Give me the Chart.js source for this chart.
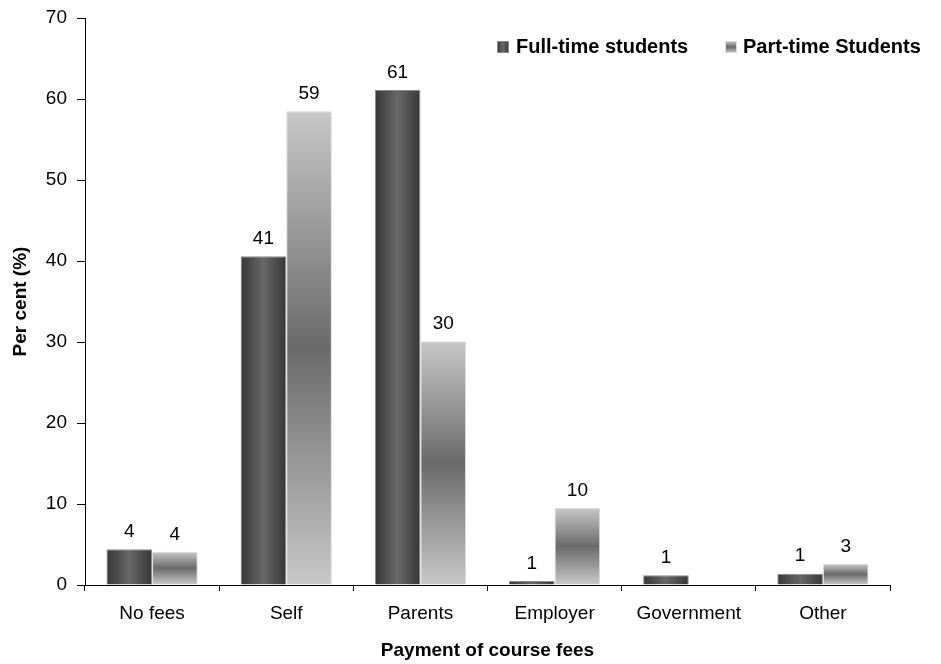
<!DOCTYPE html>
<html>
<head>
<meta charset="utf-8">
<script src="https://cdn.jsdelivr.net/npm/chart.js@4.4.1/dist/chart.umd.min.js"></script>
<style>
  html, body { margin: 0; padding: 0; background: #fff; }
  #wrap { width: 941px; height: 664px; position: relative; }
</style>
</head>
<body>
<div id="wrap"><canvas id="chart"></canvas></div>
<script>
var categories = ['No fees', 'Self', 'Parents', 'Employer', 'Government', 'Other'];
var fullTime = [4.4, 40.6, 61.1, 0.5, 1.2, 1.4];
var partTime = [4.1, 58.5, 30.1, 9.5, null, 2.6];
var seriesNames = ['Full-time students', 'Part-time Students'];
var yTicks = [0, 10, 20, 30, 40, 50, 60, 70];

var FONT = '"Liberation Sans", Arial, sans-serif';
Chart.defaults.font.family = FONT;
Chart.defaults.color = '#000';

function darkFill(ctx, left, right) {
  var g = ctx.createLinearGradient(left, 0, right, 0);
  g.addColorStop(0, '#363636');
  g.addColorStop(0.5, '#686868');
  g.addColorStop(1, '#363636');
  return g;
}

function lightFill(ctx, top, bottom) {
  var g = ctx.createLinearGradient(0, top, 0, bottom);
  g.addColorStop(0, '#c8c8c8');
  g.addColorStop(0.5, '#6a6a6a');
  g.addColorStop(1, '#c8c8c8');
  return g;
}

// shading for each bar, set once the bars have their positions
var shadePlugin = {
  id: 'shade',
  beforeDatasetsDraw: function(chart) {
    var ctx = chart.ctx;
    chart.data.datasets.forEach(function(ds, i) {
      chart.getDatasetMeta(i).data.forEach(function(bar) {
        bar.options.backgroundColor = i === 0
          ? darkFill(ctx, bar.x - bar.width / 2, bar.x + bar.width / 2)
          : lightFill(ctx, bar.y, bar.base);
      });
    });
  }
};

// rounded value above every bar
var valueLabels = {
  id: 'valueLabels',
  afterDatasetsDraw: function(chart) {
    var ctx = chart.ctx;
    ctx.save();
    ctx.font = '19px ' + FONT;
    ctx.fillStyle = '#000';
    ctx.textAlign = 'center';
    ctx.textBaseline = 'bottom';
    chart.data.datasets.forEach(function(ds, i) {
      chart.getDatasetMeta(i).data.forEach(function(bar, j) {
        var v = ds.data[j];
        if (v === null) return;
        ctx.fillText(Math.round(v), bar.x, bar.y - 8);
      });
    });
    ctx.restore();
  }
};

// legend in the upper right corner
var legendX = [497, 725];
var cornerLegend = {
  id: 'cornerLegend',
  afterDraw: function(chart) {
    var ctx = chart.ctx;
    ctx.save();
    ctx.font = 'bold 20px ' + FONT;
    ctx.textBaseline = 'middle';
    var y = 47;
    seriesNames.forEach(function(name, i) {
      var x = legendX[i];
      ctx.fillStyle = i === 0 ? darkFill(ctx, x, x + 12) : lightFill(ctx, y - 6, y + 6);
      ctx.fillRect(x, y - 6, 12, 12);
      ctx.strokeStyle = i === 0 ? '#8a8a8a' : '#dcdcdc';
      ctx.lineWidth = 1;
      ctx.strokeRect(x + 0.5, y - 5.5, 11, 11);
      ctx.fillStyle = '#000';
      ctx.fillText(name, x + (i === 0 ? 19 : 18), y);
    });
    ctx.restore();
  }
};

// any function here keeps the bar options per element, so each bar gets its own fill
function placeholder() { return '#555'; }

new Chart(document.getElementById('chart').getContext('2d'), {
  type: 'bar',
  data: {
    labels: categories,
    datasets: [
      {
        label: seriesNames[0],
        data: fullTime,
        backgroundColor: placeholder,
        borderColor: '#8a8a8a',
        borderWidth: 1,
        categoryPercentage: 0.68,
        barPercentage: 1
      },
      {
        label: seriesNames[1],
        data: partTime,
        backgroundColor: placeholder,
        borderColor: '#dcdcdc',
        borderWidth: 1,
        categoryPercentage: 0.68,
        barPercentage: 1
      }
    ]
  },
  options: {
    responsive: true,
    maintainAspectRatio: false,
    animation: false,
    layout: { padding: { top: 18, right: 51, left: 0, bottom: 0 } },
    plugins: {
      legend: { display: false },
      tooltip: { enabled: false }
    },
    scales: {
      x: {
        grid: { display: true, drawOnChartArea: false, color: '#000', tickLength: 6, offset: true },
        border: { color: '#000' },
        ticks: { font: { size: 19 }, padding: 11 },
        title: { display: true, text: 'Payment of course fees', font: { size: 19, weight: 'bold' }, padding: { top: 4, bottom: 2 } },
        afterFit: function(scale) { scale.height = 79; }
      },
      y: {
        min: 0,
        max: 70,
        afterBuildTicks: function(scale) {
          scale.ticks = yTicks.map(function(v) { return { value: v }; });
        },
        grid: { display: true, drawOnChartArea: false, color: '#000', tickLength: 8 },
        border: { color: '#000' },
        ticks: { font: { size: 19 }, padding: 10 },
        title: { display: true, text: 'Per cent (%)', font: { size: 19, weight: 'bold' }, padding: { top: 9, bottom: 0 } },
        afterFit: function(scale) {
          scale.width = 85;
          scale.paddingTop = 0;
          scale.paddingBottom = 0;
        }
      }
    }
  },
  plugins: [shadePlugin, valueLabels, cornerLegend]
});
</script>
</body>
</html>
